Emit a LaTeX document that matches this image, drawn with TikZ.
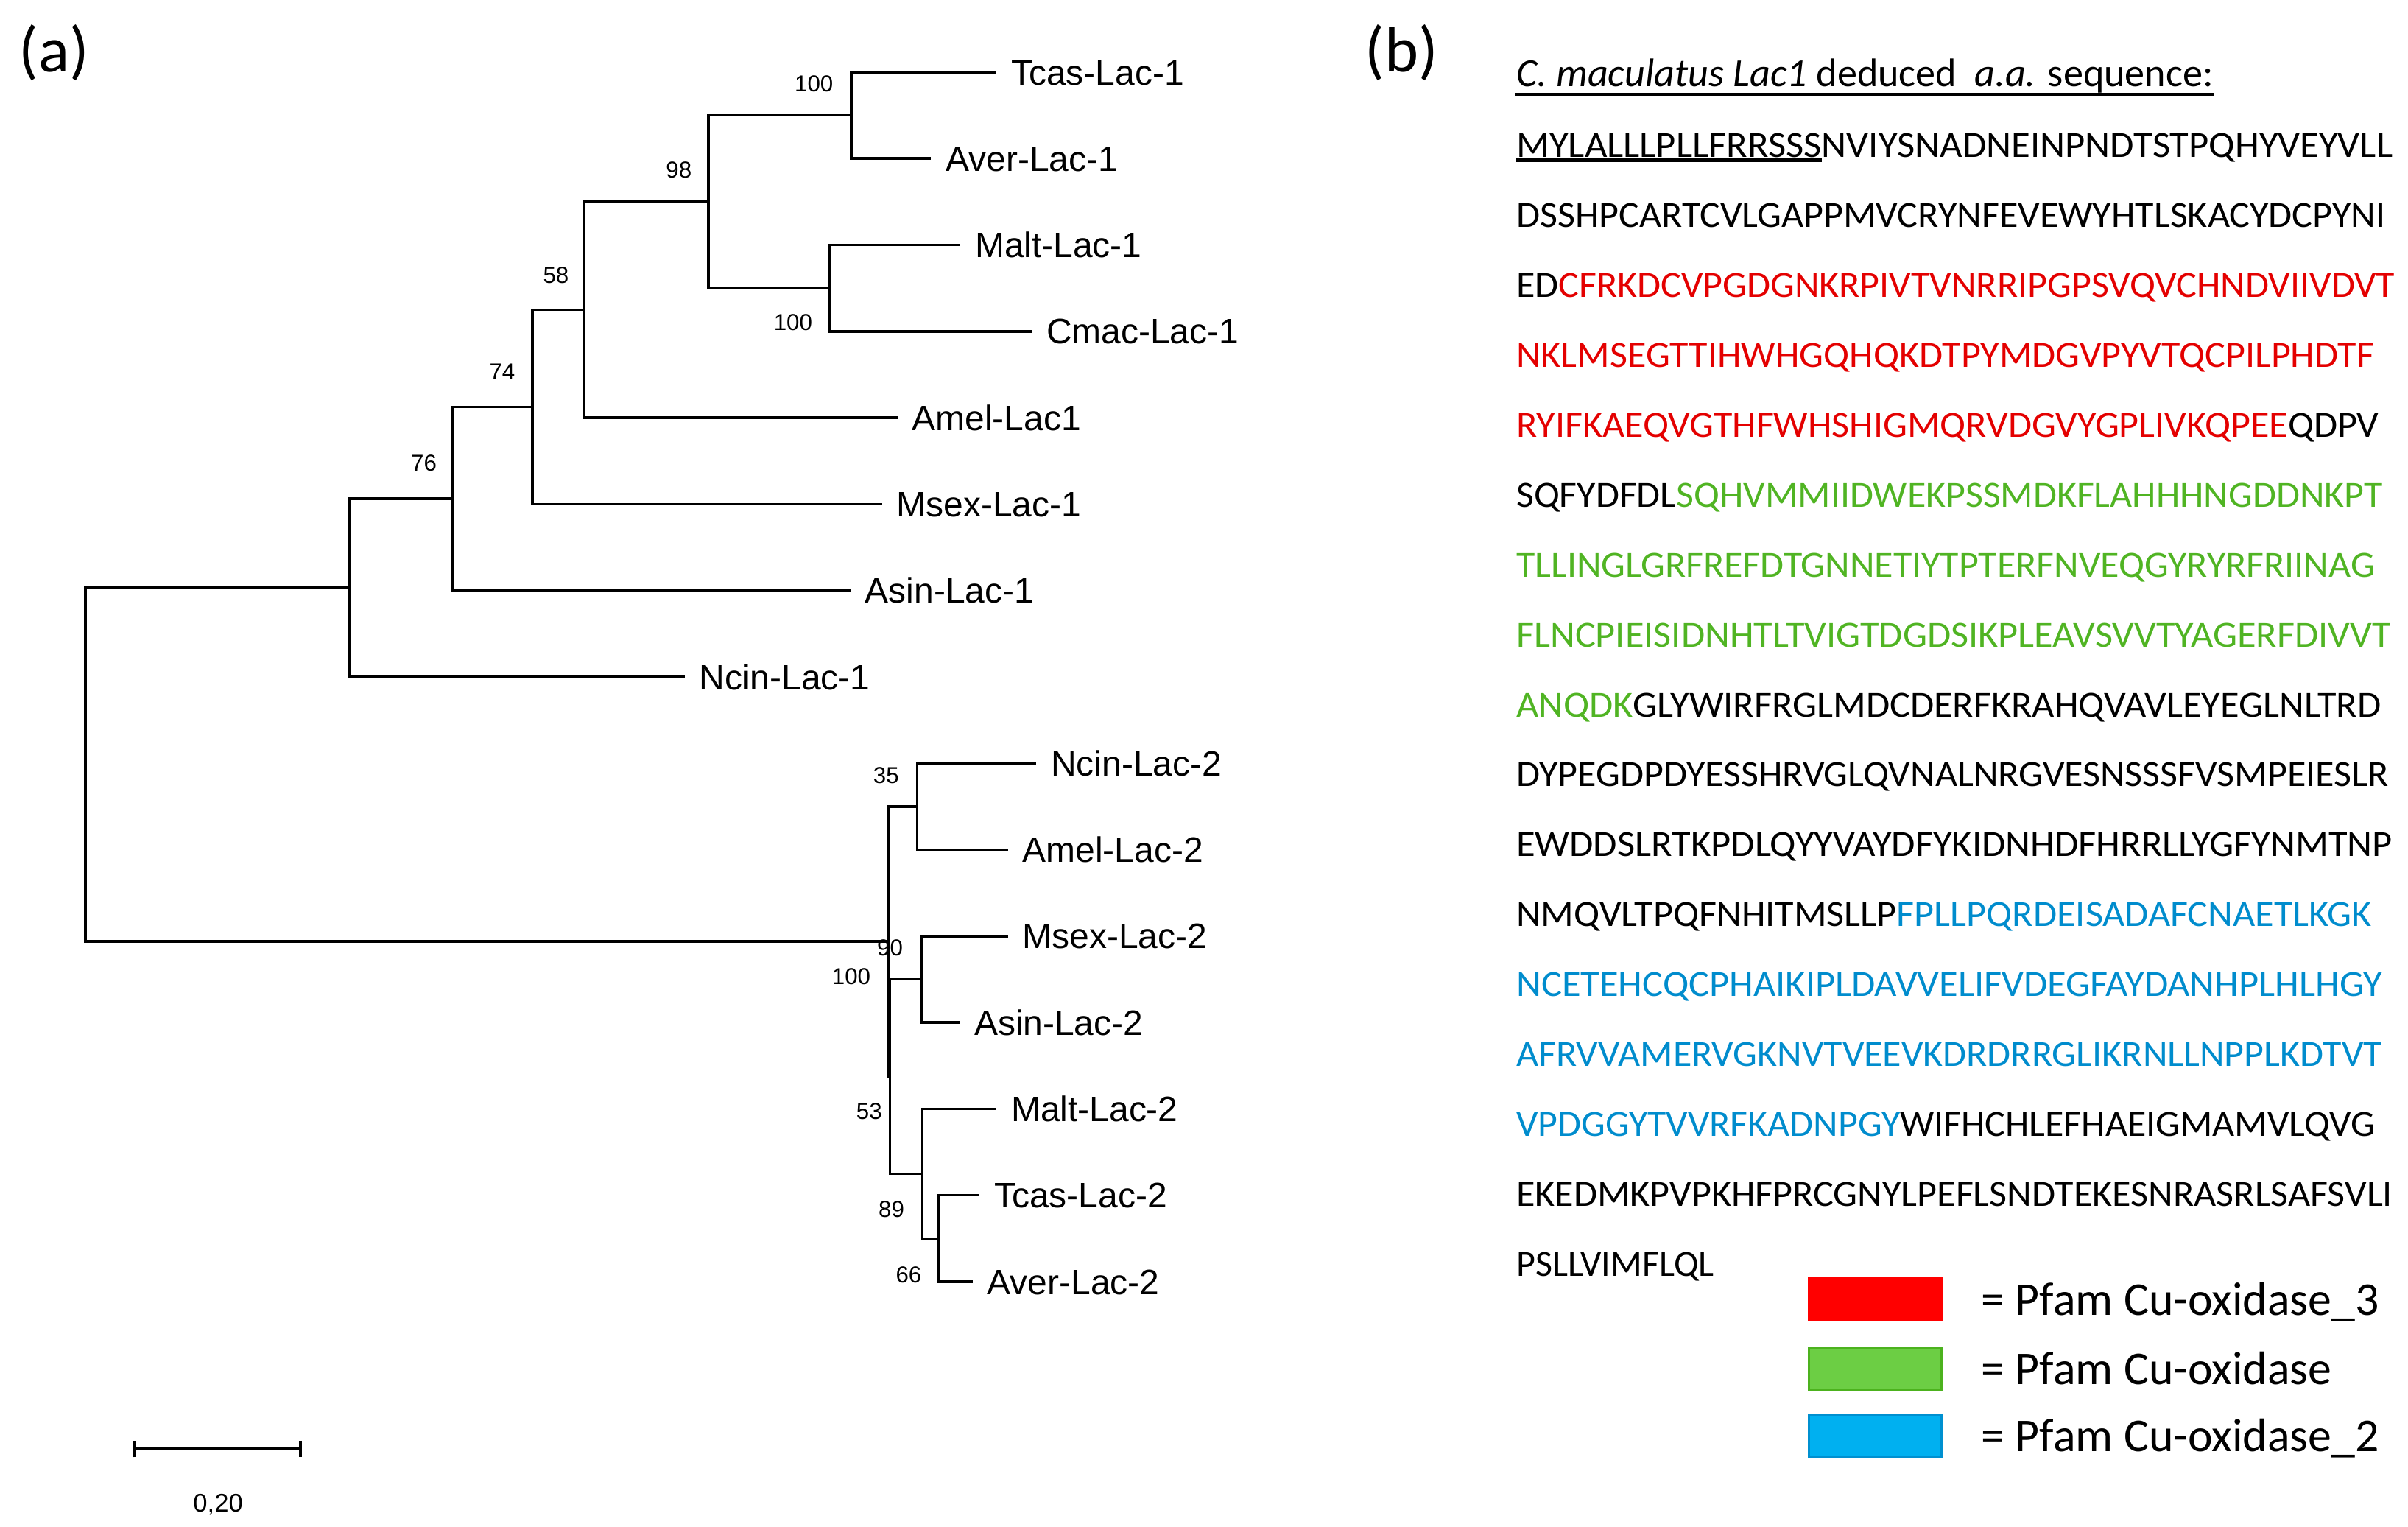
\documentclass[tikz,border=0pt]{standalone}
\usepackage{fontspec}
\setmainfont{Carlito}
\newfontfamily\treefont{Liberation Sans}
\usetikzlibrary{arrows.meta}
\definecolor{seqred}{RGB}{228,0,0}
\definecolor{seqgreen}{RGB}{80,180,35}
\definecolor{seqblue}{RGB}{0,140,205}
\definecolor{boxred}{RGB}{255,0,0}
\definecolor{boxgreen}{RGB}{108,206,68}
\definecolor{boxgreenline}{RGB}{76,178,30}
\definecolor{boxblue}{RGB}{0,176,240}
\definecolor{boxblueline}{RGB}{0,144,208}
\newcommand{\seqfit}[2]{\resizebox{#1}{\height}{#2}}
\newcommand{\R}[1]{\textcolor{seqred}{#1}}
\newcommand{\G}[1]{\textcolor{seqgreen}{#1}}
\newcommand{\B}[1]{\textcolor{seqblue}{#1}}
\begin{document}
\begin{tikzpicture}[x=0.5pt,y=-0.5pt,
  branch/.style={draw=black, line width=0.85pt},
  leaflab/.style={anchor=west, inner sep=0pt, font=\treefont\fontsize{11.5}{13}\selectfont, text height=8.2pt, text depth=0pt},
  boot/.style={inner sep=0pt, font=\treefont\fontsize{7.5}{9}\selectfont},
  panel/.style={inner sep=0pt, font=\fontsize{21}{24}\selectfont},
  seqline/.style={anchor=base west, inner sep=0pt, font=\fontsize{12}{14}\selectfont},
  legbox/.style={minimum width=43.2pt, minimum height=13.7pt, inner sep=0pt, line width=0.6pt},
  legtxt/.style={anchor=base west, inner sep=0pt, font=\fontsize{15.3}{18}\selectfont}]
\useasboundingbox (0,0) rectangle (1568,994);
\fill[white] (0,0) rectangle (1568,994);

% ---------- panel labels ----------
\node[panel] (pa) at (35.2,34.4) {(a)};
\node[panel] (pb) at (912.7,34.4) {(b)};

% ---------- tree: internal nodes ----------
\coordinate (root) at (55.5,497.8);
\coordinate (nup) at (227.3,382.7);
\coordinate (n76) at (294.8,324.7);
\coordinate (n74) at (346.7,265);
\coordinate (n58) at (380.4,201.7);
\coordinate (n98) at (461.4,131.4);
\coordinate (n100a) at (554.3,75.1);
\coordinate (n100b) at (539.8,187.6);
\coordinate (nR) at (578.3,612.9);
\coordinate (nZ) at (579.5,700.8);
\coordinate (n35) at (597.3,525);
\coordinate (n90) at (600,637.5);
\coordinate (n89) at (600.5,764.1);
\coordinate (n66) at (611.4,806.3);

% ---------- tree: leaves ----------
\node[leaflab] (tcas1) at (658,47) {Tcas-Lac-1};
\node[leaflab] (aver1) at (615.5,103.2) {Aver-Lac-1};
\node[leaflab] (malt1) at (634.5,159.5) {Malt-Lac-1};
\node[leaflab] (cmac1) at (681,215.7) {Cmac-Lac-1};
\node[leaflab] (amel1) at (593.5,272) {Amel-Lac1};
\node[leaflab] (msex1) at (583.5,328.2) {Msex-Lac-1};
\node[leaflab] (asin1) at (563,384.4) {Asin-Lac-1};
\node[leaflab] (ncin1) at (455,440.7) {Ncin-Lac-1};
\node[leaflab] (ncin2) at (684,496.9) {Ncin-Lac-2};
\node[leaflab] (amel2) at (665.5,553.2) {Amel-Lac-2};
\node[leaflab] (msex2) at (665.5,609.4) {Msex-Lac-2};
\node[leaflab] (asin2) at (634,665.6) {Asin-Lac-2};
\node[leaflab] (malt2) at (658,721.9) {Malt-Lac-2};
\node[leaflab] (tcas2) at (647,778.1) {Tcas-Lac-2};
\node[leaflab] (aver2) at (642.5,834.4) {Aver-Lac-2};

% ---------- tree: branches ----------
\draw[branch] (root) |- (nup);
\draw[branch] (root) |- (nR);
\draw[branch] (nup) |- (n76);
\draw[branch] (nup) |- ([xshift=-4.6pt]ncin1.west);
\draw[branch] (n76) |- (n74);
\draw[branch] (n76) |- ([xshift=-4.6pt]asin1.west);
\draw[branch] (n74) |- (n58);
\draw[branch] (n74) |- ([xshift=-4.6pt]msex1.west);
\draw[branch] (n58) |- (n98);
\draw[branch] (n58) |- ([xshift=-4.6pt]amel1.west);
\draw[branch] (n98) |- (n100a);
\draw[branch] (n98) |- (n100b);
\draw[branch] (n100a) |- ([xshift=-4.6pt]tcas1.west);
\draw[branch] (n100a) |- ([xshift=-4.6pt]aver1.west);
\draw[branch] (n100b) |- ([xshift=-4.6pt]malt1.west);
\draw[branch] (n100b) |- ([xshift=-4.6pt]cmac1.west);
\draw[branch] (nR) |- (n35);
\draw[branch] (nR) |- (nZ);
\draw[branch] (n35) |- ([xshift=-4.6pt]ncin2.west);
\draw[branch] (n35) |- ([xshift=-4.6pt]amel2.west);
\draw[branch] (nZ) |- (n90);
\draw[branch] (nZ) |- (n89);
\draw[branch] (n90) |- ([xshift=-4.6pt]msex2.west);
\draw[branch] (n90) |- ([xshift=-4.6pt]asin2.west);
\draw[branch] (n89) |- ([xshift=-4.6pt]malt2.west);
\draw[branch] (n89) |- (n66);
\draw[branch] (n66) |- ([xshift=-4.6pt]tcas2.west);
\draw[branch] (n66) |- ([xshift=-4.6pt]aver2.west);

% ---------- bootstrap values ----------
\node[boot] (b100a) at (530,54.6) {100};
\node[boot] (b98) at (442,110.8) {98};
\node[boot] (b58) at (362,179) {58};
\node[boot] (b74) at (327,242) {74};
\node[boot] (b76) at (276,301.4) {76};
\node[boot] (b100b) at (516.4,210) {100};
\node[boot] (b35) at (577,504.6) {35};
\node[boot] (b90) at (579.5,617) {90};
\node[boot] (b100R) at (554.3,635.8) {100};
\node[boot] (b53) at (566,723.4) {53};
\node[boot] (b89) at (580.5,787) {89};
\node[boot] (b66) at (591.7,830) {66};

% ---------- scale bar ----------
\coordinate (sb1) at (86.7,943.3);
\coordinate (sb2) at (196.7,943.3);
\draw[line width=0.9pt, {Bar[width=5.4pt]}-{Bar[width=5.4pt]}] (sb1) -- (sb2);
\node[anchor=base, inner sep=0pt, font=\treefont\fontsize{8.3}{10}\selectfont] (sblab) at (142,984) {0,20};

% ---------- panel (b): sequence ----------
\node[anchor=base west, inner sep=0pt, font=\fontsize{13}{15}\selectfont] (title) at (987,56.3)
  {\seqfit{226.9pt}{\textit{C. maculatus Lac1} deduced\ \ \textit{a.a.} sequence:}};
\draw[line width=1.1pt] ([yshift=-2.65pt]title.base west) -- ([yshift=-2.65pt]title.base east);

\node[seqline] (s1) at (987,102.6) {\seqfit{285.3pt}{\vtop{\hbox{MYLALLLPLLFRRSSS}\kern0.2pt\hrule height 1.1pt}NVIYSNADNEINPNDTSTPQHYVEYVLL}};
\node[seqline] (s2) at (987,148.1) {\seqfit{283pt}{DSSHPCARTCVLGAPPMVCRYNFEVEWYHTLSKACYDCPYNI}};
\node[seqline] (s3) at (987,193.6) {\seqfit{286pt}{ED\R{CFRKDCVPGDGNKRPIVTVNRRIPGPSVQVCHNDVIIVDVT}}};
\node[seqline] (s4) at (987,239.1) {\seqfit{279.3pt}{\R{NKLMSEGTTIHWHGQHQKDTPYMDGVPYVTQCPILPHDTF}}};
\node[seqline] (s5) at (987,284.6) {\seqfit{280.8pt}{\R{RYIFKAEQVGTHFWHSHIGMQRVDGVYGPLIVKQPEE}QDPV}};
\node[seqline] (s6) at (987,330.1) {\seqfit{282pt}{SQFYDFDL\G{SQHVMMIIDWEKPSSMDKFLAHHHNGDDNKPT}}};
\node[seqline] (s7) at (987,375.6) {\seqfit{279.5pt}{\G{TLLINGLGRFREFDTGNNETIYTPTERFNVEQGYRYRFRIINAG}}};
\node[seqline] (s8) at (987,421.1) {\seqfit{284.8pt}{\G{FLNCPIEISIDNHTLTVIGTDGDSIKPLEAVSVVTYAGERFDIVVT}}};
\node[seqline] (s9) at (987,466.6) {\seqfit{281.5pt}{\G{ANQDK}GLYWIRFRGLMDCDERFKRAHQVAVLEYEGLNLTRD}};
\node[seqline] (s10) at (987,512.1) {\seqfit{284pt}{DYPEGDPDYESSHRVGLQVNALNRGVESNSSSFVSMPEIESLR}};
\node[seqline] (s11) at (987,557.6) {\seqfit{285.3pt}{EWDDSLRTKPDLQYYVAYDFYKIDNHDFHRRLLYGFYNMTNP}};
\node[seqline] (s12) at (987,603.1) {\seqfit{278.5pt}{NMQVLTPQFNHITMSLLP\B{FPLLPQRDEISADAFCNAETLKGK}}};
\node[seqline] (s13) at (987,648.6) {\seqfit{281.9pt}{\B{NCETEHCQCPHAIKIPLDAVVELIFVDEGFAYDANHPLHLHGY}}};
\node[seqline] (s14) at (987,694.1) {\seqfit{281.9pt}{\B{AFRVVAMERVGKNVTVEEVKDRDRRGLIKRNLLNPPLKDTVT}}};
\node[seqline] (s15) at (987,739.6) {\seqfit{279.5pt}{\B{VPDGGYTVVRFKADNPGY}WIFHCHLEFHAEIGMAMVLQVG}};
\node[seqline] (s16) at (987,785.1) {\seqfit{285.3pt}{EKEDMKPVPKHFPRCGNYLPEFLSNDTEKESNRASRLSAFSVLI}};
\node[seqline] (s17) at (987,830.6) {PSLLVIMFLQL};

% ---------- legend ----------
\node[legbox, fill=boxred, draw=boxred] (kred) at (1221,845.4) {};
\node[legbox, fill=boxgreen, draw=boxgreenline] (kgreen) at (1221,890.9) {};
\node[legbox, fill=boxblue, draw=boxblueline] (kblue) at (1221,934.6) {};
\node[legtxt] (tred) at (1289.6,856.3) {= Pfam Cu-oxidase\_3};
\node[legtxt] (tgreen) at (1289.6,901.2) {= Pfam Cu-oxidase};
\node[legtxt] (tblue) at (1289.6,944.9) {= Pfam Cu-oxidase\_2};
\end{tikzpicture}
\end{document}
